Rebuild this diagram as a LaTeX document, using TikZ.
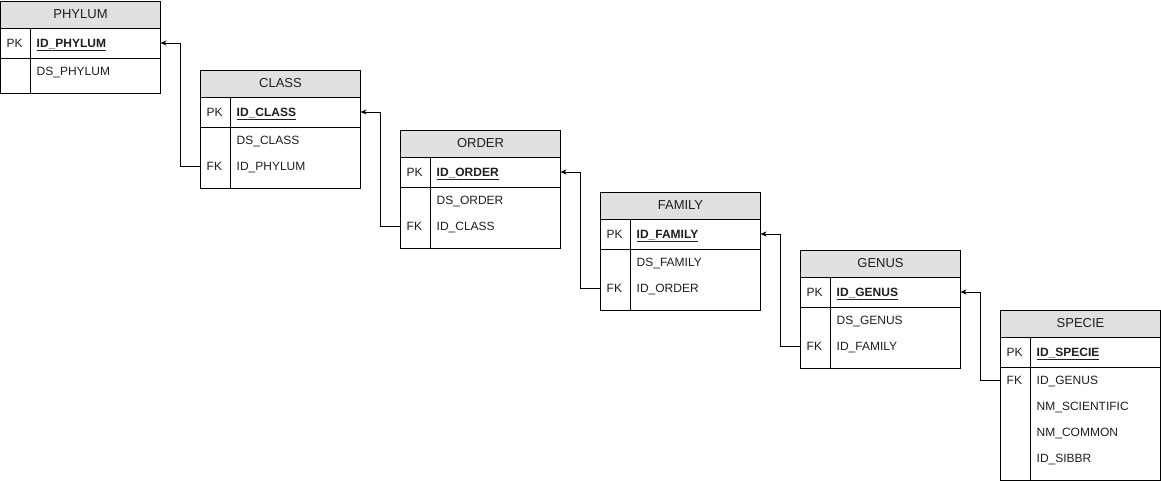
\documentclass[tikz,border=0pt]{standalone}
\usepackage{fontspec}
\setmainfont{Liberation Sans}
\usetikzlibrary{arrows.meta}
\definecolor{hdr}{HTML}{E0E0E0}
\definecolor{txt}{HTML}{1E1E1E}
\tikzset{
  box/.style={draw=black, line width=0.9pt, minimum width=160pt, inner sep=0pt, outer sep=0pt, anchor=north west},
  hdrbox/.style={box, fill=hdr, minimum height=27pt},
  titletxt/.style={font=\fontsize{13}{13}\selectfont, text=txt, inner sep=0pt},
  lbl/.style={font=\fontsize{12}{12}\selectfont, text=txt, inner sep=0pt, anchor=west, text depth=0pt},
  pklbl/.style={lbl, font=\fontsize{12}{12}\selectfont\bfseries},
  divline/.style={draw=black, line width=0.9pt},
  conn/.style={draw=black, line width=0.9pt, -{Stealth[length=6pt,width=5pt]}}
}
% id, x, y, title, pk, body height
\newcommand\ertable[6]{%
  \node[hdrbox] (#1-h) at (#2,#3) {};
  \node[titletxt] (#1-t) at (#1-h.center) {#4};
  \node[box, minimum height=30pt] (#1-pk) at (#1-h.south west) {};
  \node[box, minimum height=#6pt] (#1-b) at (#1-pk.south west) {};
  \draw[divline] ([xshift=30pt]#1-pk.north west) -- ([xshift=30pt]#1-b.south west);
  \node[lbl] (#1-pkk) at ([xshift=6pt]#1-pk.west) {PK};
  \node[pklbl] (#1-pkn) at ([xshift=36pt]#1-pk.west) {\underline{#5}};
}
% id, index, key, name
\newcommand\erfield[4]{%
  \node[lbl] (#1-k#2) at ([xshift=6pt,yshift={-(13+26*(#2-1))*1pt}]#1-b.north west) {#3};
  \node[lbl] (#1-f#2) at ([xshift=36pt,yshift={-(13+26*(#2-1))*1pt}]#1-b.north west) {#4};
}
\begin{document}
\begin{tikzpicture}[x=1pt,y=-1pt]
\useasboundingbox (0,0) rectangle (1161,481);
\ertable{phylum}{0.5}{1}{PHYLUM}{ID\_PHYLUM}{35}
\erfield{phylum}{1}{}{DS\_PHYLUM}
\ertable{class}{200.5}{70}{CLASS}{ID\_CLASS}{61}
\erfield{class}{1}{}{DS\_CLASS}
\erfield{class}{2}{FK}{ID\_PHYLUM}
\ertable{order}{400.5}{130}{ORDER}{ID\_ORDER}{61}
\erfield{order}{1}{}{DS\_ORDER}
\erfield{order}{2}{FK}{ID\_CLASS}
\ertable{family}{600.5}{192}{FAMILY}{ID\_FAMILY}{61}
\erfield{family}{1}{}{DS\_FAMILY}
\erfield{family}{2}{FK}{ID\_ORDER}
\ertable{genus}{800.5}{250}{GENUS}{ID\_GENUS}{61}
\erfield{genus}{1}{}{DS\_GENUS}
\erfield{genus}{2}{FK}{ID\_FAMILY}
\ertable{specie}{1000.5}{310}{SPECIE}{ID\_SPECIE}{113}
\erfield{specie}{1}{FK}{ID\_GENUS}
\erfield{specie}{2}{}{NM\_SCIENTIFIC}
\erfield{specie}{3}{}{NM\_COMMON}
\erfield{specie}{4}{}{ID\_SIBBR}
\draw[conn] (class-b.west |- class-k2) -- ++(-20,0) |- (phylum-pk.east);
\draw[conn] (order-b.west |- order-k2) -- ++(-20,0) |- (class-pk.east);
\draw[conn] (family-b.west |- family-k2) -- ++(-20,0) |- (order-pk.east);
\draw[conn] (genus-b.west |- genus-k2) -- ++(-20,0) |- (family-pk.east);
\draw[conn] (specie-b.west |- specie-k1) -- ++(-20,0) |- (genus-pk.east);
\end{tikzpicture}
\end{document}
